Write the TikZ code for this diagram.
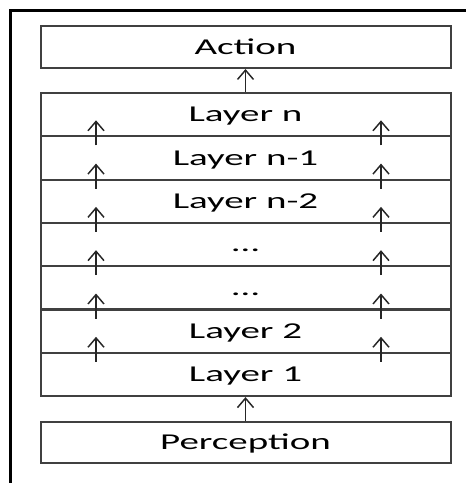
\documentclass[tikz,border=0pt]{standalone}
\usepackage{fontspec}
\setmainfont{Carlito}
\usetikzlibrary{arrows.meta}

\tikzset{every picture/.style={line width=0.75pt}}
\tikzset{
  layerbox/.style={draw=black!75, line width=1.5pt, minimum width=307.5pt, minimum height=32.5pt, inner sep=0pt, text height=11pt, text depth=0pt, font=\fontsize{17}{20}\selectfont},
  uparrow/.style={draw=black!85, line width=1.1pt, -{Straight Barb[length=7pt,width=12pt]}},
}
\newcommand{\widetext}[1]{\scalebox{1.72}[1]{#1}}

\begin{document}
\begin{tikzpicture}[x=0.75pt,y=0.75pt,yscale=-1,xscale=1]
\useasboundingbox (0,0) rectangle (466,483);

%Frame
\draw [line width=2.25pt] (10.5,483) -- (10.5,10.5) -- (466,10.5) ;

%Rectangle: Action
\node [layerbox, minimum height=31.5pt] (act) at (245.5,47) {\widetext{Action}};

%Rectangles: Layers
\foreach \lbl [count=\i] in {Layer n,Layer n-1,Layer n-2,\dots,\dots,Layer 2,Layer 1}
  \node [layerbox] (l\i) at (245.5,{93+43.3*(\i-0.5)}) {\widetext{\lbl}};

%Rectangle: Perception
\node [layerbox, minimum height=30.75pt] (perc) at (245.5,442.5) {\widetext{Perception}};

%Arrows: in and out
\draw [uparrow] (l1.north) -- (act.south) ;
\draw [uparrow] (perc.north) -- (l7.south) ;

%Arrows: between layers
\foreach \i in {1,...,6} {
  \coordinate (lb\i) at (96,{93+43.3*\i+9});
  \coordinate (lt\i) at (96,{93+43.3*\i-16});
  \coordinate (rb\i) at (381,{93+43.3*\i+9});
  \coordinate (rt\i) at (381,{93+43.3*\i-16});
  \draw [uparrow] (lb\i) -- (lt\i) ;
  \draw [uparrow] (rb\i) -- (rt\i) ;
}

\end{tikzpicture}
\end{document}
